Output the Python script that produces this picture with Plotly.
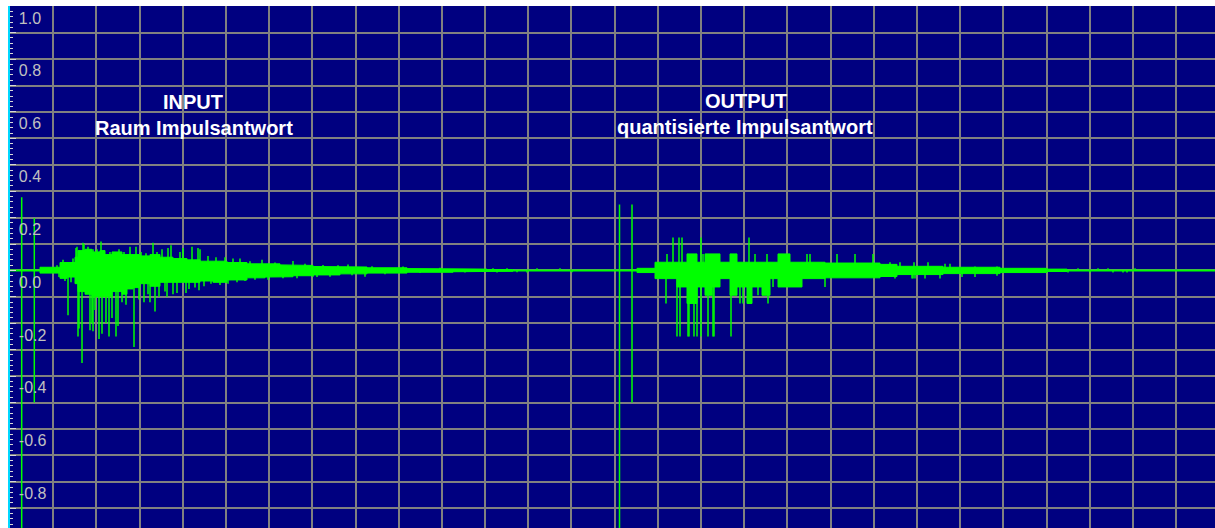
import plotly.graph_objects as go

# ---- time axis (samples) -------------------------------------------------
T_END = 1205
GRID_STEP = 43.19

# ---- INPUT: room impulse response --------------------------------------
in_pulse_t = [11.7, 24.3]
in_pulse_hi = [0.277, 0.198]
in_pulse_lo = [-1.0, -0.50]

# noise band: segment starts, upper and lower envelope
in_band_t = [30, 50, 57, 65, 68, 75, 82, 90, 95, 102,
             112, 117, 123, 130, 140, 150, 163, 177, 190, 203,
             217, 237, 255, 270, 283, 303, 330, 357, 397, 443,
             477]
in_band_end = 503
in_band_hi = [0.012, 0.03, 0.03, 0.05, 0.075, 0.08, 0.07, 0.075, 0.06, 0.07,
              0.06, 0.06, 0.06, 0.055, 0.06, 0.05, 0.045, 0.04, 0.035, 0.035,
              0.03, 0.025, 0.025, 0.021, 0.019, 0.015, 0.013, 0.01, 0.007, 0.005,
              0.003]
in_band_lo = [-0.01, -0.03, -0.025, -0.05, -0.08, -0.09, -0.1, -0.1, -0.1, -0.08,
              -0.09, -0.07, -0.065, -0.05, -0.06, -0.045, -0.045, -0.045, -0.04, -0.045,
              -0.036, -0.028, -0.025, -0.024, -0.02, -0.017, -0.013, -0.01, -0.007, -0.005,
              -0.003]

# single reflections sticking out of the band
in_spike_t = [47, 49, 53, 55, 58, 61, 63, 66, 67, 68,
              69, 72, 73, 74, 78, 80, 81, 82, 83, 83,
              85, 87, 89, 91, 92, 94, 96, 99, 100, 102,
              104, 106, 108, 109, 112, 114, 116, 120, 124, 126,
              129, 131, 134, 136, 138, 140, 143, 145, 147, 149,
              152, 155, 157, 158, 161, 163, 167, 170, 173, 176,
              179, 182, 185, 188, 189, 190, 194, 198, 201, 206,
              210, 215, 218, 223, 227, 230, 235, 240, 245, 252,
              258, 265, 273, 283, 287, 295, 303, 307, 313, 320,
              328, 338, 342, 355, 362, 375, 393, 410, 430, 455,
              483, 487, 497, 507, 517, 527, 550, 562]
in_spike_v = [0.02, -0.025, 0.04, -0.04, -0.17, -0.045, 0.045, 0.085, 0.09, -0.25,
              -0.22, -0.35, 0.105, 0.10, 0.09, -0.226, 0.08, -0.2, 0.08, -0.23,
              -0.15, 0.08, -0.26, 0.11, -0.24, 0.075, -0.2, -0.25, 0.07, -0.18,
              0.065, -0.25, -0.21, 0.08, -0.12, 0.07, -0.13, 0.09, -0.29, 0.09,
              -0.11, 0.07, -0.12, 0.065, -0.09, -0.12, 0.105, -0.155, 0.07, -0.1,
              0.08, -0.08, -0.1, 0.085, 0.095, -0.09, -0.085, 0.07, 0.085, -0.085,
              -0.07, 0.09, -0.065, 0.085, -0.075, 0.08, -0.06, 0.055, -0.05, 0.05,
              -0.055, 0.05, -0.05, 0.045, -0.045, 0.045, -0.04, 0.035, -0.035, 0.04,
              -0.035, 0.03, -0.03, 0.036, -0.03, 0.025, -0.024, -0.025, 0.021, -0.024,
              0.02, 0.022, -0.018, -0.024, 0.016, -0.014, 0.015, -0.01, 0.01, -0.008,
              0.008, -0.008, 0.008, -0.007, -0.008, 0.008, 0.008, -0.007]

# ---- OUTPUT: quantised impulse response --------------------------------
out_pulse_t = [609.5, 622]
out_pulse_hi = [0.25, 0.25]
out_pulse_lo = [-1.0, -0.50]

out_band_t = [627, 645, 667, 677, 687, 695, 702, 710, 720, 727,
              737, 742, 752, 760, 768, 780, 792, 815, 870, 887,
              933, 990, 1037]
out_band_end = 1057
out_band_hi = [0.008, 0.031, 0.031, 0.0625, 0.031, 0.0625, 0.0625, 0.031, 0.0625, 0.031,
               0.031, 0.031, 0.031, 0.031, 0.0625, 0.031, 0.031, 0.028, 0.023, 0.0156,
               0.012, 0.008, 0.005]
out_band_lo = [-0.008, -0.031, -0.0625, -0.125, -0.0625, -0.094, -0.0625, -0.031, -0.094, -0.0625,
               -0.125, -0.0625, -0.094, -0.031, -0.0625, -0.0625, -0.031, -0.028, -0.023, -0.0156,
               -0.012, -0.008, -0.004]

out_spike_t = [656, 657, 663, 667, 669, 670, 672, 678, 679, 684,
               687, 691, 691, 693, 698, 703, 704, 721, 730, 733,
               739, 745, 748, 757, 758, 763, 779, 797, 800, 815,
               827, 845, 863, 880, 885, 890, 902, 903, 904, 905,
               915, 918, 930, 935, 940, 952, 965, 965, 987, 987,
               1058, 1068, 1080, 1088, 1098, 1103, 1113, 1117, 1125]
out_spike_v = [-0.125, 0.0625, 0.125, -0.25, 0.125, -0.25, 0.125, -0.25, -0.25, -0.25,
               -0.25, 0.125, -0.25, 0.0625, -0.25, -0.25, -0.25, -0.25, -0.125, -0.125,
               0.125, 0.0625, -0.094, 0.0625, -0.125, -0.0625, 0.0625, 0.0625, 0.0625, -0.0625,
               0.0625, 0.0625, 0.0625, 0.031, -0.031, 0.031, -0.031, -0.031, 0.031, -0.031,
               -0.031, 0.031, -0.031, 0.025, 0.025, -0.025, 0.015, -0.025, 0.015, -0.02,
               -0.008, 0.008, -0.008, 0.008, 0.008, -0.008, -0.008, -0.008, 0.008]

# ---- axis labels ---------------------------------------------------------
y_tick_vals = [round(-0.9 + 0.1 * i, 1) for i in range(20)]
y_tick_text = ["%.1f" % v if round(v * 10) % 2 == 0 else "" for v in y_tick_vals]

GREEN = "#00ff00"
GRID = "#808080"


def band_outline(starts, end, hi, lo):
    """Closed step outline of the noise envelope."""
    edges = list(starts) + [end]
    xs, ys = [], []
    for i, h in enumerate(hi):
        xs += [edges[i], edges[i + 1]]
        ys += [h, h]
    for i in range(len(lo) - 1, -1, -1):
        xs += [edges[i + 1], edges[i]]
        ys += [lo[i], lo[i]]
    xs.append(xs[0])
    ys.append(ys[0])
    return xs, ys


def stems(ts, vs):
    xs, ys = [], []
    for t, v in zip(ts, vs):
        xs += [t, t, None]
        ys += [0, v, None]
    return xs, ys


def verticals(ts, hi, lo):
    xs, ys = [], []
    for t, h, l in zip(ts, hi, lo):
        xs += [t, t, None]
        ys += [h, l, None]
    return xs, ys


fig = go.Figure()

# zero line of the signal across the whole record
fig.add_trace(go.Scatter(x=[0, T_END], y=[0, 0], mode="lines",
                         line=dict(color=GREEN, width=2), hoverinfo="skip"))

for bt, be, bh, bl, st, sv, pt, ph, pl in [
    (in_band_t, in_band_end, in_band_hi, in_band_lo, in_spike_t, in_spike_v,
     in_pulse_t, in_pulse_hi, in_pulse_lo),
    (out_band_t, out_band_end, out_band_hi, out_band_lo, out_spike_t, out_spike_v,
     out_pulse_t, out_pulse_hi, out_pulse_lo),
]:
    bx, by = band_outline(bt, be, bh, bl)
    fig.add_trace(go.Scatter(x=bx, y=by, mode="lines", fill="toself",
                             fillcolor=GREEN, line=dict(color=GREEN, width=1),
                             hoverinfo="skip"))
    sx, sy = stems(st, sv)
    fig.add_trace(go.Scatter(x=sx, y=sy, mode="lines",
                             line=dict(color=GREEN, width=1.5), hoverinfo="skip"))
    px, py = verticals(pt, ph, pl)
    fig.add_trace(go.Scatter(x=px, y=py, mode="lines",
                             line=dict(color=GREEN, width=1.5), hoverinfo="skip"))

title_font = dict(family="Liberation Sans, Arial, sans-serif", size=20, color="white")
for x, y, text in [(183, 0.638, "<b>INPUT</b>"),
                   (184, 0.541, "<b>Raum Impulsantwort</b>"),
                   (735.5, 0.642, "<b>OUTPUT</b>"),
                   (735, 0.543, "<b>quantisierte Impulsantwort</b>")]:
    fig.add_annotation(x=x, y=y, xref="x", yref="y", text=text, showarrow=False,
                       xanchor="center", yanchor="middle", font=title_font)

fig.update_layout(
    width=1215, height=528,
    margin=dict(l=10, r=0, t=6, b=0),
    paper_bgcolor="white", plot_bgcolor="#000080",
    showlegend=False,
)
fig.update_xaxes(range=[0, T_END], tick0=0, dtick=GRID_STEP,
                 showgrid=True, gridcolor=GRID, gridwidth=2,
                 showticklabels=False, ticks="", zeroline=False, showline=False)
fig.update_yaxes(range=[-0.975, 1.001],
                 tickmode="array", tickvals=y_tick_vals, ticktext=y_tick_text,
                 ticks="inside", ticklen=6, tickwidth=1, tickcolor="#d8d8d8",
                 ticklabelposition="inside bottom", ticklabelstandoff=8,
                 tickfont=dict(family="Liberation Sans, Arial, sans-serif", size=16, color="#c0c0c0"),
                 showgrid=True, gridcolor=GRID, gridwidth=2,
                 zeroline=False, showline=True, linecolor="#00d8ff", linewidth=2,
                 minor=dict(dtick=0.02, ticks="inside", ticklen=3, tickwidth=1,
                            tickcolor="#d8d8d8", showgrid=False))

fig.write_html("out.html")
